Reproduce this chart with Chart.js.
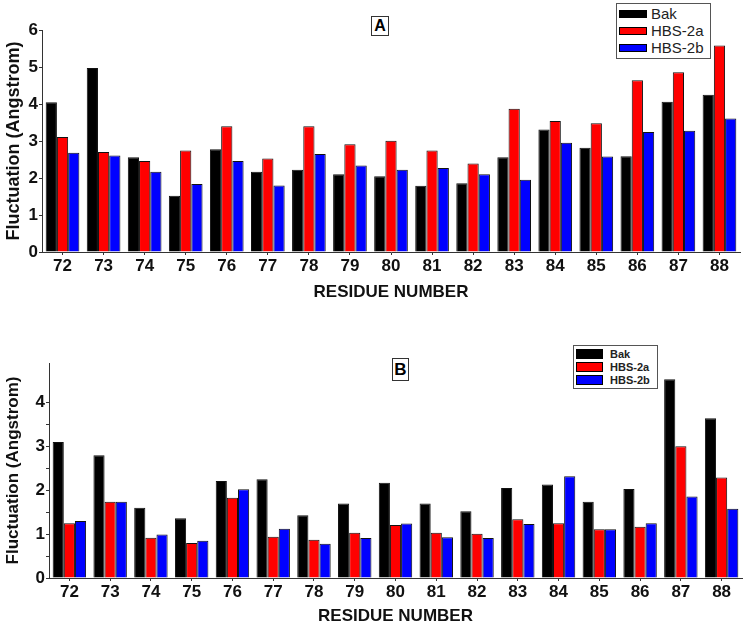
<!DOCTYPE html>
<html>
<head>
<meta charset="utf-8">
<script src="https://cdn.jsdelivr.net/npm/chart.js@4"></script>
<style>
  body { margin: 0; background: #fff; font-family: Arial, "Liberation Sans", sans-serif; }
  .panel { position: absolute; left: 0; width: 750px; }
  .panel canvas { display: block; }
  .tag { position: absolute; border: 1px solid #333; font-weight: bold; color: #000; text-align: center; background: #fff; }
  .legend { position: absolute; border: 1px solid #555; background: #fff; }
  .legend .row { display: flex; align-items: center; white-space: nowrap; }
  .legend .sw { display: inline-block; border: 1px solid #000; box-sizing: border-box; }
</style>
</head>
<body>
<div class="panel" id="panel-a" style="top:0;height:305px">
  <canvas id="chart-a" width="750" height="305"></canvas>
</div>
<div class="panel" id="panel-b" style="top:310px;height:317px">
  <canvas id="chart-b" width="750" height="317"></canvas>
</div>
<div class="tag" style="left:371px;top:16px;width:16px;height:18px;font-size:16px;line-height:18px">A</div>
<div class="tag" style="left:392px;top:358px;width:15px;height:21px;font-size:17px;line-height:21px">B</div>
<div class="legend" id="legend-a" style="left:616px;top:3px;width:89px;height:52px"></div>
<div class="legend" id="legend-b" style="left:573px;top:345px;width:79px;height:40px"></div>

<script>
'use strict';

// ── Data ───────────────────────────────────────────────────────────────────
const residues = ['72','73','74','75','76','77','78','79','80','81','82','83','84','85','86','87','88'];
const seriesNames = ['Bak', 'HBS-2a', 'HBS-2b'];

// panel A
const bakA  = [4.05, 4.97, 2.56, 1.52, 2.78, 2.17, 2.22, 2.10, 2.05, 1.79, 1.86, 2.56, 3.31, 2.82, 2.59, 4.06, 4.25];
const hbsaA = [3.11, 2.70, 2.46, 2.74, 3.40, 2.53, 3.40, 2.91, 3.01, 2.74, 2.39, 3.87, 3.54, 3.48, 4.64, 4.86, 5.58];
const hbsbA = [2.68, 2.61, 2.17, 1.84, 2.46, 1.80, 2.65, 2.34, 2.22, 2.27, 2.10, 1.95, 2.95, 2.58, 3.24, 3.28, 3.61];

// panel B
const bakB  = [3.10, 2.80, 1.60, 1.36, 2.21, 2.25, 1.43, 1.70, 2.17, 1.70, 1.52, 2.05, 2.13, 1.74, 2.03, 4.53, 3.64];
const hbsaB = [1.25, 1.74, 0.92, 0.80, 1.83, 0.94, 0.87, 1.03, 1.21, 1.03, 1.01, 1.34, 1.25, 1.11, 1.17, 3.00, 2.29];
const hbsbB = [1.30, 1.74, 0.99, 0.85, 2.02, 1.12, 0.78, 0.91, 1.24, 0.93, 0.91, 1.23, 2.32, 1.11, 1.25, 1.86, 1.58];

const COLORS = ['#000000', '#ff0000', '#0000ff'];
const FONT = 'Arial, "Liberation Sans", sans-serif';

// ── Chart builder ──────────────────────────────────────────────────────────
function makeChart(id, values, cfg) {
  return new Chart(document.getElementById(id), {
    type: 'bar',
    data: {
      labels: residues,
      datasets: values.map((v, i) => ({
        label: seriesNames[i],
        data: v,
        backgroundColor: COLORS[i],
        borderColor: '#111',
        borderWidth: 1,
        categoryPercentage: 0.82,
        barPercentage: 1,
      })),
    },
    options: {
      responsive: false,
      animation: false,
      layout: { padding: cfg.padding },
      plugins: { legend: { display: false }, tooltip: { enabled: false } },
      scales: {
        x: {
          grid: { display: true, drawOnChartArea: false, offset: false, tickLength: 3, color: '#333' },
          border: { color: '#333', width: 1 },
          ticks: { color: '#111', padding: 1, font: { family: FONT, size: 17, weight: 'bold' } },
          title: {
            display: true, text: 'RESIDUE NUMBER', color: '#111',
            font: { family: FONT, size: 17, weight: 'bold' },
            padding: { top: 0, bottom: cfg.xTitlePad },
          },
          afterFit: s => { s.height = cfg.xHeight; },
        },
        y: {
          min: 0, max: cfg.yMax,
          grid: { display: true, drawOnChartArea: false, tickLength: 3, color: '#333' },
          border: { color: '#333', width: 1 },
          ticks: {
            stepSize: 0.5, padding: 1, color: '#111',
            font: { family: FONT, size: 17, weight: 'bold' },
            callback: v => (Number.isInteger(v) ? v : ''),
          },
          afterBuildTicks: s => { s.ticks = s.ticks.filter(t => Math.abs(t.value * 2 - Math.round(t.value * 2)) < 1e-6); },
          title: {
            display: true, text: 'Fluctuation (Angstrom)', color: '#111',
            font: { family: FONT, size: cfg.yTitleSize, weight: 'bold' },
            padding: { top: 3, bottom: 0 },
          },
          afterFit: s => { s.width = cfg.yWidth; },
        },
      },
    },
  });
}

function buildLegend(id, cfg) {
  const box = document.getElementById(id);
  box.style.padding = cfg.pad;
  seriesNames.forEach((name, i) => {
    const row = document.createElement('div');
    row.className = 'row';
    row.style.height = cfg.rowH + 'px';
    row.innerHTML = `<span class="sw" style="width:${cfg.swW}px;height:${cfg.swH}px;background:${COLORS[i]}"></span>` +
      `<span style="margin-left:${cfg.gap}px;font-size:${cfg.size}px;font-weight:${cfg.weight};color:#222">${name}</span>`;
    box.appendChild(row);
  });
}

makeChart('chart-a', [bakA, hbsaA, hbsbA], {
  padding: { top: 30, right: 10, left: 0, bottom: 0 },
  yMax: 6, yWidth: 42, xHeight: 53, xTitlePad: 2, yTitleSize: 18,
});
makeChart('chart-b', [bakB, hbsaB, hbsbB], {
  padding: { top: 53, right: 8, left: 0, bottom: 0 },
  yMax: 4.9, yWidth: 49, xHeight: 49, xTitlePad: 0, yTitleSize: 17,
});

buildLegend('legend-a', { pad: '1px 2px', rowH: 17, swW: 28, swH: 8, gap: 4, size: 15, weight: 'normal' });
buildLegend('legend-b', { pad: '1px 2px', rowH: 13, swW: 27, swH: 10, gap: 7, size: 11, weight: 'bold' });
</script>
</body>
</html>
